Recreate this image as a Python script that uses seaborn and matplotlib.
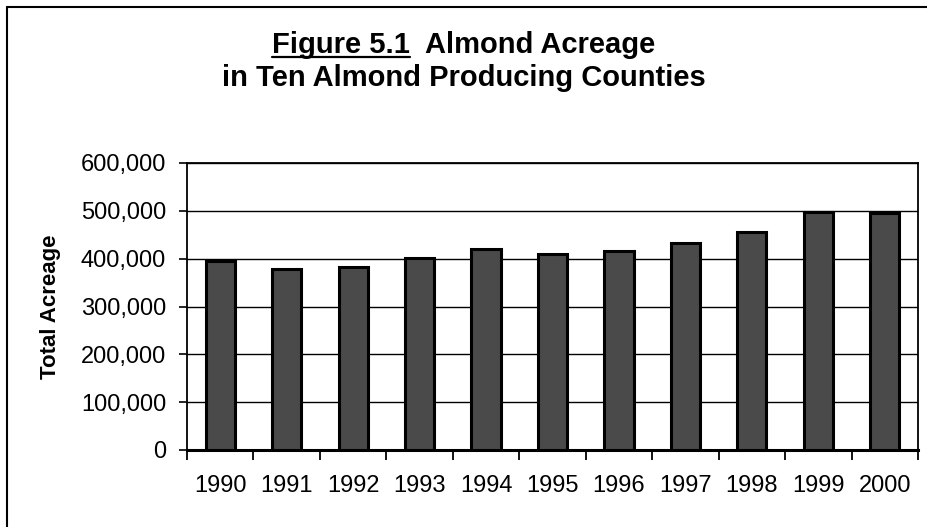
import matplotlib
matplotlib.use("Agg")
import matplotlib.pyplot as plt
from matplotlib.lines import Line2D
from matplotlib.ticker import FuncFormatter, FixedLocator
import seaborn as sns
import pandas as pd

# Almond acreage, ten producing counties combined
years = ["1990", "1991", "1992", "1993", "1994", "1995",
         "1996", "1997", "1998", "1999", "2000"]
acreage = [396000, 379000, 382000, 401000, 421000, 409000,
           417000, 433000, 455000, 497000, 496000]
y_ticks = [0, 100000, 200000, 300000, 400000, 500000, 600000]

title_part1 = "Figure 5.1"
title_part2 = "  Almond Acreage"
title_line2 = "in Ten Almond Producing Counties"
y_label = "Total Acreage"

TITLE_SIZE = 21
TICK_SIZE = 17

sns.set_theme(style="white")
plt.rcParams["font.family"] = ["Liberation Sans", "DejaVu Sans"]

W, H = 927, 527
fig = plt.figure(figsize=(W / 100, H / 100), dpi=100)
ax = fig.add_axes([187 / W, 1 - 450 / H, (918 - 187) / W, (450 - 163) / H])

df = pd.DataFrame({"year": years, "acres": acreage})
sns.barplot(data=df, x="year", y="acres", ax=ax, color="#4a4a4a",
            saturation=1, edgecolor="black", linewidth=2.2, width=0.44,
            zorder=3)

ax.set_xlim(-0.5, len(years) - 0.5)
ax.set_ylim(0, 600000)
ax.set_yticks(y_ticks)
ax.yaxis.set_major_formatter(FuncFormatter(lambda v, p: f"{int(v):,}"))
ax.yaxis.grid(True, color="black", linewidth=1.0, zorder=0)
ax.set_axisbelow(True)

# category labels without marks; marks sit on the category boundaries
ax.tick_params(axis="x", which="major", length=0, pad=18,
               labelsize=TICK_SIZE, labelcolor="black")
ax.xaxis.set_minor_locator(FixedLocator([i - 0.5 for i in range(len(years) + 1)]))
ax.tick_params(axis="x", which="minor", bottom=True, length=7, width=1.3,
               direction="out", color="black")
ax.tick_params(axis="y", which="major", left=True, length=6, width=1.2,
               direction="out", color="black", labelsize=TICK_SIZE, pad=9,
               labelcolor="black")

ax.set_xlabel("")
ax.set_ylabel(y_label, fontsize=16, fontweight="bold", color="black",
              labelpad=14)

for side in ["left", "right", "top"]:
    ax.spines[side].set_visible(True)
    ax.spines[side].set_color("black")
    ax.spines[side].set_linewidth(1.3)
ax.spines["bottom"].set_color("black")
ax.spines["bottom"].set_linewidth(2.2)

# title: two lines, first part underlined
t1 = fig.text(0.5, 1 - 53 / H, title_part1 + title_part2, ha="center",
              va="baseline", fontsize=TITLE_SIZE, fontweight="bold",
              color="black")
t2 = fig.text(0.5, 1 - 86 / H, title_line2, ha="center", va="baseline",
              fontsize=TITLE_SIZE, fontweight="bold", color="black")

renderer = fig.canvas.get_renderer()
bb = t1.get_window_extent(renderer)
probe = fig.text(0, 0, title_part1, fontsize=TITLE_SIZE, fontweight="bold",
                 alpha=0)
pw = probe.get_window_extent(renderer).width
probe.remove()
x0 = bb.x0 / W
x1 = (bb.x0 + pw) / W
y_ul = 1 - 57 / H
fig.add_artist(Line2D([x0, x1], [y_ul, y_ul], color="black", linewidth=1.6,
                      transform=fig.transFigure))

# outer frame around the chart
fig.add_artist(Line2D([7 / W, 7 / W], [0, 1 - 7 / H], color="black",
                      linewidth=1.5, transform=fig.transFigure))
fig.add_artist(Line2D([7 / W, 1], [1 - 7 / H, 1 - 7 / H], color="black",
                      linewidth=1.5, transform=fig.transFigure))

fig.savefig("out.png", dpi=100, facecolor="white")
